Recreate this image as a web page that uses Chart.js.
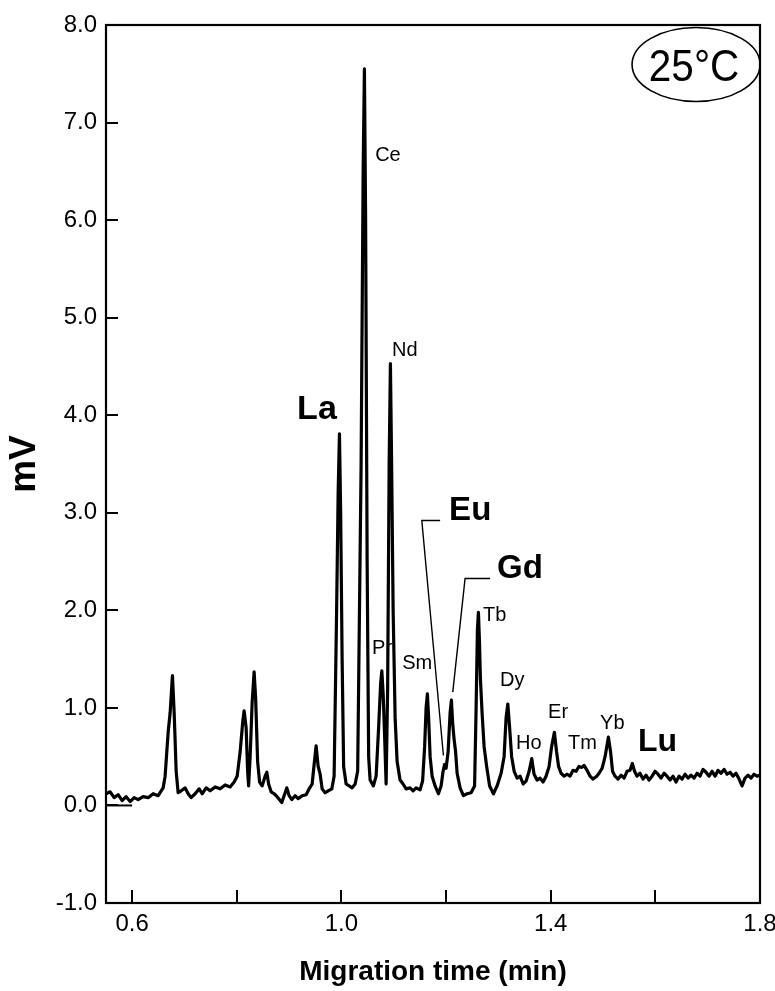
<!DOCTYPE html>
<html><head><meta charset="utf-8">
<script src="https://cdn.jsdelivr.net/npm/chart.js@4.4.1/dist/chart.umd.min.js"></script>
<style>html,body{margin:0;padding:0;background:#fff}canvas{display:block}</style>
</head><body>
<canvas id="c" width="775" height="991"></canvas>
<script>
// ---- data ----
const times = [
0.5503,0.558,0.5656,0.5732,0.5809,0.5885,0.5962,0.6038,0.6115,0.621,0.6306,0.6401,0.6497,0.6592,0.663,0.6688,0.6726,0.677,0.6803,0.6841,0.6879,0.6936,0.7013,0.707,0.7127,0.7204,0.728,0.7338,0.7414,0.749,0.7586,0.7682,0.7777,0.7873,0.7949,0.8007,0.8064,0.8112,0.814,0.8178,0.8207,0.8226,0.8255,0.8293,0.8331,0.836,0.8398,0.8436,0.8484,0.8541,0.8574,0.8608,0.8656,0.8713,0.877,0.886,0.8904,0.8956,0.9,0.9052,0.9115,0.9172,0.9249,0.9325,0.9383,0.944,0.9478,0.9516,0.9555,0.9593,0.9631,0.9688,0.9746,0.9816,
0.986,0.9908,0.9937,0.9962,0.9985,1.0013,1.0042,1.009,1.0147,1.0204,1.0262,1.031,1.0376,1.0415,1.0439,1.0462,1.0491,1.052,1.0548,1.0611,1.0663,1.0711,1.0749,1.0772,1.0797,1.0826,1.0854,1.0883,1.0912,1.0936,1.0959,1.0988,1.1026,1.1064,1.1121,1.1178,1.1236,1.1312,1.137,1.1427,1.1503,1.1551,1.159,1.1618,1.1643,1.1666,1.1695,1.1733,1.179,1.1853,1.1905,1.1943,1.1972,1.2,1.2039,1.2077,1.2102,1.2125,1.2153,1.2182,1.2211,1.2268,1.2331,1.2402,1.2478,1.2545,
1.2574,1.2599,1.2618,1.2637,1.2656,1.2688,1.2727,1.2778,1.2832,1.2905,1.2975,1.3052,1.3109,1.3147,1.318,1.3214,1.3253,1.3301,1.3358,1.3415,1.3473,1.353,1.3587,1.3638,1.3682,1.3739,1.3797,1.3854,1.3911,1.3969,1.4016,1.407,1.4112,1.415,1.4198,1.4255,1.4312,1.4369,1.4426,1.4484,1.4541,1.4594,1.4637,1.4694,1.4752,1.4809,1.488,1.4924,1.4982,1.5039,1.5102,1.5144,1.5182,1.523,1.5287,1.5345,1.5402,1.5459,1.5516,1.556,1.5602,1.565,
1.5707,1.5764,1.5822,1.5879,1.5937,1.5994,1.6051,1.6108,1.6166,1.6223,1.6281,1.6338,1.6395,1.6453,1.651,1.6567,1.6625,1.6682,1.6739,1.6797,1.6854,1.6911,1.6969,1.7026,1.7084,1.7141,1.7198,1.7256,1.7313,1.737,1.7428,1.7485,1.7542,1.76,1.7657,1.7714,1.7772,1.7829,1.7886,1.7943,1.7991
];
const signal = [
0.12,0.14,0.08,0.11,0.05,0.09,0.04,0.08,0.06,0.09,0.08,0.12,0.10,0.18,0.3,0.75,0.95,1.33,0.95,0.35,0.13,0.15,0.18,0.12,0.08,0.12,0.17,0.12,0.18,0.15,0.19,0.17,0.21,0.19,0.24,0.30,0.55,0.85,0.97,0.8,0.35,0.2,0.5,1.05,1.37,1.1,0.45,0.24,0.2,0.3,0.34,0.22,0.14,0.12,0.09,0.03,0.1,0.18,0.1,0.06,0.1,0.07,0.1,0.11,0.17,0.22,0.42,0.61,0.4,0.32,0.17,0.13,0.15,0.17,
0.3,2.0,3.2,3.81,3.0,1.5,0.4,0.22,0.2,0.18,0.22,0.35,3.5,6.5,7.55,6.0,2.5,0.5,0.26,0.2,0.3,0.8,1.25,1.38,1.15,0.7,0.22,1.2,3.5,4.53,3.5,2.0,0.9,0.45,0.26,0.22,0.17,0.18,0.15,0.18,0.16,0.25,0.6,1.0,1.145,0.9,0.5,0.3,0.2,0.12,0.2,0.35,0.42,0.38,0.55,0.95,1.08,0.85,0.68,0.55,0.33,0.18,0.1,0.12,0.13,0.2,
1.0,1.8,1.98,1.7,1.3,0.95,0.6,0.39,0.2,0.12,0.2,0.33,0.5,0.9,1.04,0.8,0.5,0.35,0.28,0.3,0.22,0.25,0.35,0.48,0.32,0.26,0.28,0.24,0.3,0.4,0.6,0.75,0.55,0.4,0.33,0.3,0.32,0.3,0.36,0.35,0.4,0.39,0.41,0.36,0.3,0.27,0.3,0.33,0.38,0.5,0.70,0.55,0.35,0.3,0.27,0.31,0.28,0.35,0.36,0.43,0.35,0.3,
0.33,0.27,0.31,0.26,0.3,0.35,0.32,0.28,0.33,0.3,0.26,0.3,0.24,0.3,0.27,0.32,0.28,0.31,0.28,0.33,0.3,0.37,0.34,0.3,0.35,0.3,0.36,0.33,0.37,0.32,0.34,0.3,0.33,0.27,0.2,0.28,0.31,0.28,0.32,0.3,0.31
];
const baselineTimes = [0.55, 0.6];
const baselineValues = [0, 0];
const xTickValues = [0.6, 0.8, 1.0, 1.2, 1.4, 1.6, 1.8];
const xTickLabels = ['0.6', '', '1.0', '', '1.4', '', '1.8'];
const yTickValues = [-1, 0, 1, 2, 3, 4, 5, 6, 7, 8];
const yTickLabels = ['-1.0', '0.0', '1.0', '2.0', '3.0', '4.0', '5.0', '6.0', '7.0', '8.0'];
const elementNames = ['La', 'Ce', 'Pr', 'Nd', 'Sm', 'Eu', 'Gd', 'Tb', 'Dy', 'Ho', 'Er', 'Tm', 'Yb', 'Lu'];
const xTitle = 'Migration time (min)';
const yTitle = 'mV';
const temperatureLabel = '25°C';

// ---- presentation ----
const FONT = '"Liberation Sans", Arial, Helvetica, sans-serif';
const big = 'bold 33px ' + FONT;
const small = '20px ' + FONT;
const labelPlacement = {
  La: {x: 0.9153, y: 4.06, font: 'bold 34px ' + FONT},
  Ce: {x: 1.0644, y: 6.663, font: small},
  Pr: {x: 1.0586, y: 1.609, font: small},
  Nd: {x: 1.0968, y: 4.664, font: small},
  Sm: {x: 1.1160, y: 1.4555, font: small},
  Eu: {x: 1.2058, y: 3.024, font: big},
  Gd: {x: 1.2975, y: 2.429, font: big},
  Tb: {x: 1.2707, y: 1.9475, font: small},
  Dy: {x: 1.3032, y: 1.281, font: small},
  Ho: {x: 1.3338, y: 0.6355, font: small},
  Er: {x: 1.3950, y: 0.953, font: small},
  Tm: {x: 1.4332, y: 0.6355, font: small},
  Yb: {x: 1.4943, y: 0.8405, font: small},
  Lu: {x: 1.5669, y: 0.6458, font: 'bold 32px ' + FONT}
};
const leaders = [
  [[1.1886, 2.921], [1.1536, 2.921], [1.1949, 0.5125]],
  [[1.2841, 2.327], [1.2363, 2.327], [1.2128, 1.161]]
];
const tempBadge = {x: 1.6778, y: 7.595, rx: 64, ry: 37, tx: 1.6740, ty: 7.55};

const decor = {
  id: 'decor',
  afterDraw(chart) {
    const {ctx, chartArea: a, scales: {x, y}} = chart;
    ctx.save();
    ctx.strokeStyle = '#000';
    ctx.fillStyle = '#000';
    ctx.lineWidth = 2.2;
    ctx.strokeRect(a.left, a.top, a.right - a.left, a.bottom - a.top);
    ctx.lineWidth = 2;
    x.ticks.forEach(t => {
      const px = Math.round(x.getPixelForValue(t.value));
      ctx.beginPath(); ctx.moveTo(px, a.bottom); ctx.lineTo(px, a.bottom - 13); ctx.stroke();
    });
    y.ticks.forEach(t => {
      if (t.value <= y.min || t.value >= y.max) return;
      const py = Math.round(y.getPixelForValue(t.value));
      ctx.beginPath(); ctx.moveTo(a.left, py); ctx.lineTo(a.left + 12, py); ctx.stroke();
    });
    // element labels
    ctx.textBaseline = 'middle';
    ctx.textAlign = 'left';
    elementNames.forEach(n => {
      const p = labelPlacement[n];
      ctx.font = p.font;
      ctx.fillText(n, x.getPixelForValue(p.x), y.getPixelForValue(p.y));
    });
    // leader lines
    ctx.lineWidth = 1.4;
    leaders.forEach(pts => {
      ctx.beginPath();
      pts.forEach((p, i) => {
        const px = x.getPixelForValue(p[0]), py = y.getPixelForValue(p[1]);
        if (i === 0) ctx.moveTo(px, py); else ctx.lineTo(px, py);
      });
      ctx.stroke();
    });
    // temperature badge
    ctx.lineWidth = 1.6;
    ctx.beginPath();
    ctx.ellipse(x.getPixelForValue(tempBadge.x), y.getPixelForValue(tempBadge.y), tempBadge.rx, tempBadge.ry, 0, 0, Math.PI * 2);
    ctx.stroke();
    ctx.save();
    ctx.translate(x.getPixelForValue(tempBadge.tx), y.getPixelForValue(tempBadge.ty));
    ctx.scale(0.92, 1);
    ctx.font = '44px ' + FONT;
    ctx.textAlign = 'center';
    ctx.fillText(temperatureLabel, 0, 0);
    ctx.restore();
    ctx.restore();
  }
};

new Chart(document.getElementById('c'), {
  type: 'line',
  data: {
    datasets: [
      {
        data: times.map((t, i) => ({x: t, y: signal[i]})),
        borderColor: '#000', borderWidth: 3.2, pointRadius: 0,
        borderJoinStyle: 'round', tension: 0, fill: false
      },
      {
        data: baselineTimes.map((t, i) => ({x: t, y: baselineValues[i]})),
        borderColor: '#000', borderWidth: 2, pointRadius: 0, fill: false
      }
    ]
  },
  options: {
    responsive: false,
    animation: false,
    devicePixelRatio: 1,
    layout: {padding: {top: 25, right: 15, left: 0, bottom: 0}},
    plugins: {legend: {display: false}, tooltip: {enabled: false}},
    scales: {
      x: {
        type: 'linear', min: 0.55, max: 1.8,
        grid: {display: false, drawTicks: false},
        border: {display: false},
        afterBuildTicks: s => { s.ticks = xTickValues.map(v => ({value: v})); },
        afterFit: s => { s.height = 88; s.paddingLeft = 0; s.paddingRight = 0; },
        ticks: {
          color: '#000', padding: 7, maxRotation: 0, autoSkip: false,
          font: {family: FONT, size: 24},
          callback: (v) => { const i = xTickValues.findIndex(t => Math.abs(t - v) < 1e-9); return i >= 0 ? xTickLabels[i] : ''; }
        },
        title: {display: true, text: xTitle, color: '#000', font: {family: FONT, size: 28, weight: 'bold'}, padding: {top: 0, bottom: 2}}
      },
      y: {
        type: 'linear', min: -1, max: 8,
        grid: {display: false, drawTicks: false},
        border: {display: false},
        afterBuildTicks: s => { s.ticks = yTickValues.map(v => ({value: v})); },
        afterFit: s => { s.width = 106; s.paddingTop = 0; s.paddingBottom = 0; },
        ticks: {
          color: '#000', padding: 9, autoSkip: false,
          font: {family: FONT, size: 24},
          callback: (v) => { const i = yTickValues.findIndex(t => Math.abs(t - v) < 1e-9); return i >= 0 ? yTickLabels[i] : ''; }
        },
        title: {display: true, text: yTitle, color: '#000', font: {family: FONT, size: 37, weight: 'bold'}, padding: {top: 3, bottom: 0}}
      }
    }
  },
  plugins: [decor]
});
</script>
</body></html>
